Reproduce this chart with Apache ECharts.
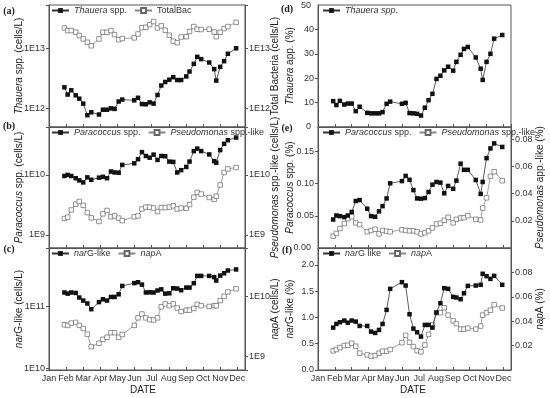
<!DOCTYPE html>
<html>
<head>
<meta charset="utf-8">
<script src="https://cdn.jsdelivr.net/npm/echarts@6/dist/echarts.min.js"></script>
<style>html,body{margin:0;padding:0;background:#fff}#c{width:550px;height:398px}</style>
</head>
<body>
<div id="c"></div>
<script>
// ---- data (time in months since Jan 1) ----
const monthLabels = ['Jan','Feb','Mar','Apr','May','Jun','Jul','Aug','Sep','Oct','Nov','Dec'];
const sampleMonths = [0.90,1.09,1.30,1.56,1.77,2.00,2.24,2.47,2.92,3.15,3.39,3.62,3.83,4.07,4.28,4.98,5.20,5.43,5.66,5.88,6.11,6.34,6.56,6.79,7.03,7.26,7.49,7.72,8.02,8.21,8.46,8.66,8.89,9.36,9.65,9.77,10.00,10.23,10.45,10.93];
const thaueraCells = [2.24e12,1.7e12,2.0e12,1.65e12,1.45e12,1.2e12,7.7e11,8.6e11,7.9e11,9.5e11,9.5e11,1.0e12,9.8e11,1.3e12,1.4e12,1.36e12,1.5e12,1.18e12,1.17e12,1.26e12,1.2e12,1.67e12,2.4e12,2.75e12,3.0e12,3.3e12,2.96e12,2.96e12,3.4e12,4.1e12,5.5e12,7.2e12,6.6e12,5.8e12,4.5e12,2.9e12,4.9e12,6.1e12,8.1e12,1.0e13];
const totalBacCells = [2.18e13,1.97e13,1.97e13,1.85e13,1.63e13,1.43e13,1.26e13,1.1e13,1.43e13,1.85e13,1.85e13,1.97e13,1.69e13,1.39e13,1.45e13,1.49e13,1.73e13,2.2e13,2.24e13,2.48e13,2.78e13,2.18e13,2.36e13,2.0e13,1.65e13,1.31e13,1.24e13,1.54e13,1.56e13,1.9e13,2.3e13,2.07e13,2.05e13,2.07e13,1.87e13,1.56e13,1.85e13,2.13e13,2.3e13,2.7e13];
const paracoccusCells = [9.6e9,1.0e10,9.6e9,8.8e9,8.1e9,7.5e9,9.1e9,8.3e9,9.0e9,9.3e9,8.8e9,1.14e10,1.1e10,1.09e10,1.47e10,1.56e10,1.83e10,2.4e10,2.07e10,1.94e10,2.18e10,1.78e10,2.07e10,2.05e10,1.67e10,1.65e10,1.1e10,1.2e10,1.36e10,1.67e10,2.5e10,2.75e10,2.5e10,2.2e10,1.7e10,1.6e10,2.6e10,3.3e10,3.8e10,4.2e10];
const pseudomonasCells = [1.87e9,1.97e9,2.6e9,3.25e9,3.6e9,3.1e9,2.35e9,1.92e9,1.67e9,2.24e9,2.55e9,2.0e9,2.07e9,1.9e9,1.73e9,2.0e9,2.07e9,2.7e9,2.9e9,2.9e9,2.8e9,2.45e9,2.85e9,2.85e9,2.9e9,3.05e9,2.7e9,2.8e9,2.78e9,3.2e9,4.25e9,5.1e9,4.8e9,4.2e9,3.9e9,4.4e9,6.8e9,1.1e10,1.26e10,1.33e10];
const narGCells = [1.69e11,1.62e11,1.69e11,1.66e11,1.4e11,1.25e11,1.12e11,9.05e10,1.18e11,1.31e11,1.25e11,1.43e11,1.43e11,1.58e11,2.16e11,2.4e11,2.48e11,2.27e11,1.69e11,1.7e11,1.69e11,1.82e11,1.9e11,1.62e11,1.64e11,1.98e11,1.96e11,1.84e11,2.03e11,2.03e11,2.39e11,3.14e11,3.14e11,3.14e11,3.0e11,2.64e11,3.18e11,3.47e11,3.84e11,4.0e11];
const napACells = [3.38e9,3.3e9,3.6e9,3.7e9,3.3e9,2.94e9,2.36e9,1.47e9,1.67e9,1.94e9,2.1e9,2.5e9,2.5e9,2.1e9,2.33e9,3.3e9,4.4e9,5.1e9,4.4e9,4.1e9,4.05e9,4.4e9,6.7e9,7.5e9,7.0e9,7.5e9,6.4e9,5.6e9,5.9e9,5.9e9,6.3e9,7.35e9,7.0e9,6.8e9,7.0e9,7.0e9,8.5e9,1.0e10,1.18e10,1.33e10];
const thaueraPct = [10.6,9.0,10.7,9.2,9.6,9.6,6.5,8.3,5.8,5.6,5.6,5.6,6.1,9.5,10.4,9.5,9.9,5.7,5.6,5.4,4.7,7.9,11.0,13.6,19.7,21.0,23.2,24.7,23.1,26.7,29.6,32.0,32.8,28.5,23.9,19.3,26.7,30.0,36.2,37.7];
const paracoccusPct = [0.0443,0.0505,0.0495,0.048,0.0505,0.056,0.073,0.0745,0.061,0.0495,0.0485,0.057,0.065,0.077,0.1005,0.104,0.112,0.106,0.090,0.077,0.0766,0.0776,0.087,0.0984,0.1026,0.1016,0.085,0.0964,0.092,0.1047,0.131,0.1214,0.1214,0.1057,0.084,0.1026,0.1396,0.1547,0.1625,0.157];
const pseudomonasPct = [0.0087,0.0107,0.0143,0.018,0.0216,0.023,0.0185,0.0172,0.0119,0.0129,0.0138,0.0104,0.0129,0.0124,0.0119,0.0134,0.0129,0.0126,0.0126,0.0119,0.0104,0.0112,0.0126,0.0148,0.0177,0.0182,0.0204,0.0226,0.0185,0.0211,0.0221,0.0223,0.0238,0.0211,0.0206,0.0294,0.0369,0.0527,0.0561,0.0495];
const narGPct = [0.806,0.876,0.908,0.94,0.90,0.94,0.92,0.838,0.838,0.73,0.705,0.762,0.876,1.143,1.543,1.67,1.606,1.06,0.787,0.717,0.635,0.857,0.857,0.806,1.092,1.27,1.556,1.543,1.39,1.378,1.346,1.46,1.6,1.606,1.62,1.83,1.784,1.733,1.79,1.62];
const napAPct = [0.0157,0.0168,0.0184,0.020,0.0203,0.0219,0.0195,0.0138,0.0124,0.0114,0.0119,0.0138,0.0154,0.0154,0.0168,0.0224,0.0284,0.0227,0.0192,0.0159,0.0149,0.0205,0.0292,0.037,0.047,0.047,0.051,0.045,0.0403,0.038,0.0335,0.0335,0.0343,0.0335,0.036,0.045,0.047,0.049,0.0535,0.0508];

// ---- layout / styles ----
const FONT = 'Liberation Sans, Arial, sans-serif';
const AX = '#555';
const TXT = '#333';
const panelTops = [5, 127, 248];
const panelHeights = [122, 121, 122];
const grids = [];
panelTops.forEach((t, i) => grids.push({left: 49, top: t, width: 196, height: panelHeights[i], show: true, borderColor: AX, borderWidth: 1}));
panelTops.forEach((t, i) => grids.push({left: 318, top: t, width: 193, height: panelHeights[i], show: true, borderColor: AX, borderWidth: 1}));

const rich = {i: {fontStyle: 'italic', fontSize: 10, fontFamily: FONT, color: '#222'}};
const richLeg = {i: {fontStyle: 'italic', fontSize: 9, fontFamily: FONT, color: TXT}};

const xAxes = grids.map((g, i) => ({
  type: 'value', gridIndex: i, min: 0, max: 11.45, interval: 1,
  axisLine: {show: true, lineStyle: {color: AX, width: 1}},
  axisTick: {show: true, inside: true, length: 3, lineStyle: {color: AX}},
  splitLine: {show: false},
  axisLabel: {show: (i === 2 || i === 5), fontSize: 9, fontFamily: FONT, color: TXT, margin: 4,
    formatter: v => (Math.abs(v - Math.round(v)) < 1e-6 ? (monthLabels[Math.round(v)] || '') : '')}
}));

function logLabel(v) {
  const e = Math.log10(v);
  return Math.abs(e - Math.round(e)) < 1e-6 ? '1E' + Math.round(e) : '';
}
function yAxis(o) {
  return Object.assign({
    axisLine: {show: true, lineStyle: {color: AX, width: 1}},
    axisTick: {show: true, inside: false, length: 3, lineStyle: {color: AX}},
    splitLine: {show: false},
    nameLocation: 'middle', nameMoveOverlap: false,
    nameTextStyle: {fontSize: 10, fontFamily: FONT, color: '#222', rich: rich},
    axisLabel: {fontSize: 9, fontFamily: FONT, color: TXT, margin: 4}
  }, o);
}
function logY(grid, pos, min, max, name) {
  return yAxis({type: 'log', logBase: 10, gridIndex: grid, position: pos, min: min, max: max,
    name: name, nameGap: 25,
    axisLabel: {fontSize: 9, fontFamily: FONT, color: TXT, margin: 4, formatter: logLabel}});
}
function fmt(d) { return v => v.toFixed(d); }

const yAxes = [
  logY(0, 'left', Math.pow(10, 11.69), Math.pow(10, 13.72), '{i|Thauera} spp. (cells/L)'),      //0
  logY(0, 'right', Math.pow(10, 11.69), Math.pow(10, 13.72), 'Total Bacteria (cells/L)'),        //1
  logY(1, 'left', Math.pow(10, 8.78), Math.pow(10, 10.80), '{i|Paracoccus} spp. (cells/L)'),    //2
  logY(1, 'right', Math.pow(10, 8.78), Math.pow(10, 10.80), '{i|Pseudomonas} spp.-like (cells/L)'), //3
  logY(2, 'left', Math.pow(10, 9.97), Math.pow(10, 11.95), '{i|nar}G-like (cells/L)'),          //4
  logY(2, 'right', Math.pow(10, 8.78), Math.pow(10, 10.80), '{i|nap}A (cells/L)'),               //5
  yAxis({type: 'value', gridIndex: 3, position: 'left', min: 0, max: 50, interval: 10, name: '{i|Thauera} app. (%)', nameGap: 23,
    axisLabel: {fontSize: 9, fontFamily: FONT, color: TXT, margin: 4, showMaxLabel: false, showMinLabel: false}}), //6
  yAxis({type: 'value', gridIndex: 4, position: 'left', min: 0, max: 0.188, interval: 0.05, name: '{i|Paracoccus} spp. (%)', nameGap: 23,
    axisLabel: {fontSize: 9, fontFamily: FONT, color: TXT, margin: 4, showMinLabel: false, showMaxLabel: false, formatter: fmt(2)}}), //7
  yAxis({type: 'value', gridIndex: 4, position: 'right', min: 0, max: 0.089, interval: 0.02, name: '{i|Pseudomonas} app.-like (%)', nameGap: 24,
    axisLabel: {fontSize: 9, fontFamily: FONT, color: TXT, margin: 4, showMinLabel: false, showMaxLabel: false, formatter: fmt(2)}}), //8
  yAxis({type: 'value', gridIndex: 5, position: 'left', min: 0, max: 2.32, interval: 0.5, name: '{i|nar}G-like (%)', nameGap: 23,
    axisLabel: {fontSize: 9, fontFamily: FONT, color: TXT, margin: 4, showMinLabel: true, showMaxLabel: false, formatter: fmt(1)}}), //9
  yAxis({type: 'value', gridIndex: 5, position: 'right', min: 0, max: 0.1, interval: 0.02, name: '{i|nap}A (%)', nameGap: 24,
    axisLabel: {fontSize: 9, fontFamily: FONT, color: TXT, margin: 4, showMinLabel: false, showMaxLabel: false, formatter: fmt(2)}}) //10
];

function pairs(vals) { return vals.map((v, i) => [sampleMonths[i], v]); }
function filled(name, x, y, vals) {
  return {name: name, type: 'line', xAxisIndex: x, yAxisIndex: y, data: pairs(vals),
    symbol: 'rect', symbolSize: 4.5, showSymbol: true,
    itemStyle: {color: '#111'}, lineStyle: {color: '#333', width: 0.8}, z: 3};
}
function open(name, x, y, vals) {
  return {name: name, type: 'line', xAxisIndex: x, yAxisIndex: y, data: pairs(vals),
    symbol: 'rect', symbolSize: 4.5, showSymbol: true,
    itemStyle: {color: '#fff', borderColor: '#666', borderWidth: 0.7}, lineStyle: {color: '#888', width: 0.8}, z: 2};
}

const series = [
  filled('a1', 0, 0, thaueraCells), open('a2', 0, 1, totalBacCells),
  filled('b1', 1, 2, paracoccusCells), open('b2', 1, 3, pseudomonasCells),
  filled('c1', 2, 4, narGCells), open('c2', 2, 5, napACells),
  filled('d1', 3, 6, thaueraPct),
  filled('e1', 4, 7, paracoccusPct), open('e2', 4, 8, pseudomonasPct),
  filled('f1', 5, 9, narGPct), open('f2', 5, 10, napAPct)
];

const legendText = {
  a1: '{i|Thauera} spp.', a2: 'TotalBac',
  b1: '{i|Paracoccus} spp.', b2: '{i|Pseudomonas} spp.-like',
  c1: '{i|nar}G-like', c2: '{i|nap}A',
  d1: '{i|Thauera spp.}',
  e1: '{i|Paracoccus} spp.', e2: '{i|Pseudomonas} spp.-like',
  f1: '{i|nar}G like', f2: '{i|nap}A'
};
function legend(names, left, top) {
  return {data: names, left: left, top: top, orient: 'horizontal', itemWidth: 17, itemHeight: 6, itemGap: 7,
    selectedMode: false, padding: 0,
    textStyle: {fontSize: 9, fontFamily: FONT, color: TXT, rich: richLeg},
    formatter: n => legendText[n]};
}
const legends = [
  legend(['a1', 'a2'], 51, 6), legend(['b1', 'b2'], 51, 128), legend(['c1', 'c2'], 51, 249),
  legend(['d1'], 322, 6), legend(['e1', 'e2'], 322, 128), legend(['f1', 'f2'], 322, 249)
];

function lab(t, x, y) {
  return {type: 'text', x: x, y: y, style: {text: t, font: 'bold 10px "Liberation Serif", "Times New Roman", serif', fill: '#222', align: 'center', verticalAlign: 'middle'}};
}
function edgeLab(t, y) {
  return {type: 'text', x: 311, y: y, z: 10, style: {text: t, font: '9px ' + FONT, fill: TXT, align: 'right', verticalAlign: 'middle'}};
}
const graphic = [
  lab('(a)', 9, 11), lab('(b)', 9, 126), lab('(c)', 9, 249),
  lab('(d)', 287, 9), lab('(e)', 287, 128), lab('(f)', 287, 250),
  {type: 'text', x: 143, y: 390, style: {text: 'DATE', font: '10px ' + FONT, fill: '#222', align: 'center', verticalAlign: 'middle'}},
  {type: 'text', x: 413, y: 390, style: {text: 'DATE', font: '10px ' + FONT, fill: '#222', align: 'center', verticalAlign: 'middle'}},
  // end-of-axis tick labels of panels (d) and (e)
  edgeLab('50', 6), edgeLab('0', 127), edgeLab('0.00', 248)
];

const chart = echarts.init(document.getElementById('c'), null, {renderer: 'canvas'});
chart.setOption({
  animation: false,
  backgroundColor: '#fff',
  grid: grids, xAxis: xAxes, yAxis: yAxes, series: series, legend: legends, graphic: graphic
});
</script>
</body>
</html>
